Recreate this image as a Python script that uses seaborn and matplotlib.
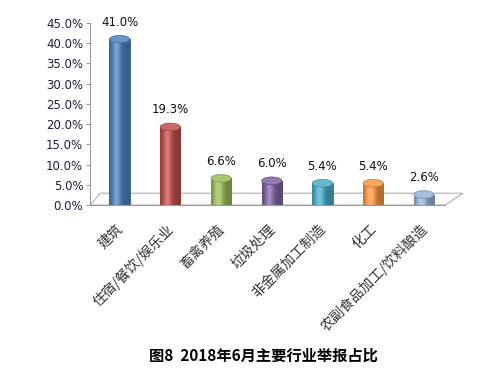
import numpy as np
import pandas as pd
import matplotlib
matplotlib.use('Agg')
import matplotlib.pyplot as plt
import seaborn as sns
from matplotlib.patches import Ellipse, Polygon

# 行业及举报占比
industries = ['建筑', '住宿/餐饮/娱乐业', '畜禽养殖', '垃圾处理', '非金属加工制造', '化工', '农副食品加工/饮料酿造']
shares = [41.0, 19.3, 6.6, 6.0, 5.4, 5.4, 2.6]
bar_colors = ['#4F81BD', '#C0504D', '#9BBB59', '#8064A2', '#4BACC6', '#F79646', '#95B3D7']
y_ticks = [0, 5, 10, 15, 20, 25, 30, 35, 40, 45]

df = pd.DataFrame({'行业': industries, '占比': shares})

sns.set_style('white')
plt.rcParams['font.family'] = ['Noto Sans CJK SC', 'DejaVu Sans']

fig = plt.figure(figsize=(4.93, 3.84), dpi=100)
ax = fig.add_axes([0.183, 0.466, 0.72, 0.474])

sns.barplot(data=df, x='行业', y='占比', hue='行业', palette=bar_colors,
            width=0.4, legend=False, ax=ax, saturation=1)


def shade(c, f):
    c = np.array(matplotlib.colors.to_rgb(c))
    return tuple(np.clip(c * f, 0, 1)) if f < 1 else tuple(c + (1 - c) * (f - 1))


# 圆柱效果：渐变 + 顶部椭圆
for patch, col in zip(ax.patches, bar_colors):
    x0, w, h = patch.get_x() + 0.08, patch.get_width(), patch.get_height()
    patch.set_x(x0)
    patch.set_edgecolor(shade(col, 0.7))
    patch.set_linewidth(0.6)
    grad = np.linspace(0, 1, 50)
    prof = 0.72 + 0.55 * np.exp(-((grad - 0.35) ** 2) / 0.05)
    img = np.array([shade(col, p) for p in prof])[None, :, :]
    im = ax.imshow(img, extent=[x0, x0 + w, 0, h], aspect='auto', zorder=patch.get_zorder() + 0.1)
    im.set_clip_path(patch)
    ax.add_patch(Ellipse((x0 + w / 2, h), w, 1.9, facecolor=shade(col, 1.15),
                         edgecolor=shade(col, 0.8), lw=0.5, zorder=patch.get_zorder() + 0.2))
    ax.text(x0 + w / 2, h + 2.6, f'{h:.1f}%', ha='center', va='bottom', fontsize=8.5,
            family='DejaVu Sans', color='#111111')

ax.set_xlim(-0.5, len(industries) - 0.5)
ax.set_ylim(0, 45)
ax.set_yticks(y_ticks)
ax.set_yticklabels([f'{t:.1f}%' for t in y_ticks], family='DejaVu Sans', fontsize=8.5, color='#1f1f3f')
ax.set_xticks(range(len(industries)))
ax.set_xticklabels(industries, rotation=45, ha='right', rotation_mode='anchor', fontsize=10, color='#333333')
ax.set_xticks(np.arange(-0.5, len(industries)), minor=True)
ax.tick_params(axis='x', which='major', length=0, pad=12)
ax.tick_params(axis='x', which='minor', length=4, color='#9a9a9a', width=0.8)
ax.tick_params(axis='y', length=3, color='#9a9a9a', width=0.8, left=True, pad=2)
ax.set_xlabel('')
ax.set_ylabel('')
for s in ['top', 'right']:
    ax.spines[s].set_visible(False)
for s in ['left', 'bottom']:
    ax.spines[s].set_color('#9a9a9a')
    ax.spines[s].set_linewidth(0.8)

# 3D 底面
floor = Polygon([(0, 0), (0.028, 0.065), (1.05, 0.065), (1.0, 0)], closed=True,
                transform=ax.transAxes, facecolor='none', edgecolor='#b0b0b0', lw=0.8, clip_on=False, zorder=0.5)
ax.add_patch(floor)

fig.text(0.535, 0.075, '图8  2018年6月主要行业举报占比', ha='center', va='center',
         fontsize=11, fontweight='bold', color='black')

fig.savefig('out.png', dpi=100)
